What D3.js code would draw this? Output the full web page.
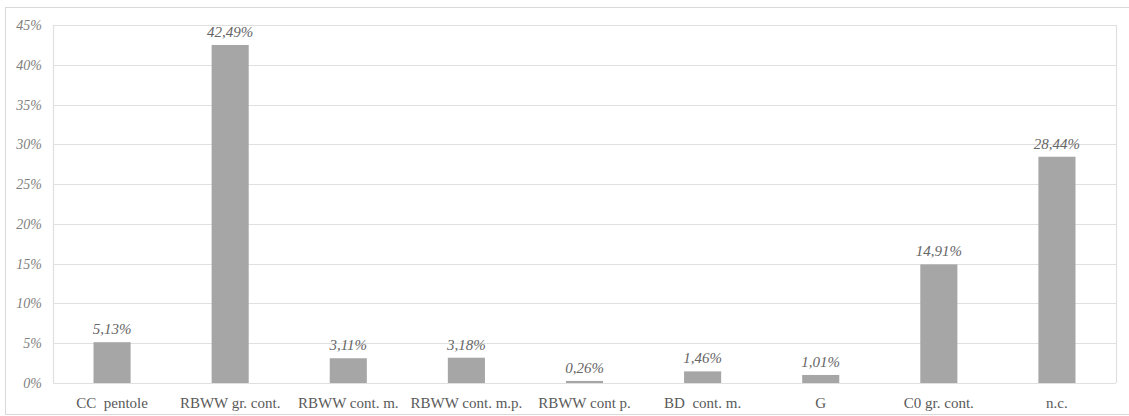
<!DOCTYPE html>
<html><head><meta charset="utf-8">
<script src="https://cdn.jsdelivr.net/npm/d3@7"></script>
<style>body{margin:0;background:#fff}svg{display:block}</style>
</head><body><svg id="c" width="1129" height="416"></svg>
<script>
const categories = ["CC  pentole","RBWW gr. cont.","RBWW cont. m.","RBWW cont. m.p.","RBWW cont p.","BD  cont. m.","G","C0 gr. cont.","n.c."];
const values = [5.13, 42.49, 3.11, 3.18, 0.26, 1.46, 1.01, 14.91, 28.44];
const valueLabels = ["5,13%","42,49%","3,11%","3,18%","0,26%","1,46%","1,01%","14,91%","28,44%"];
const yTicks = [0,5,10,15,20,25,30,35,40,45];

const FONT = '"Liberation Serif"';
const svg = d3.select("#c");
const m = {left:53, right:1116, top:25, bottom:383};
svg.append("rect").attr("x",5.5).attr("y",7.5).attr("width",1130).attr("height",407)
  .attr("fill","none").attr("stroke","#d9d9d9");

const x = d3.scaleBand().domain(categories).range([m.left,m.right]).paddingInner(0.686).paddingOuter(0.343);
const y = d3.scaleLinear().domain([0,45]).range([m.bottom,m.top]);

svg.append("g").selectAll("line").data(yTicks).join("line")
  .attr("x1",m.left).attr("x2",m.right)
  .attr("y1",d=>Math.round(y(d))+0.5).attr("y2",d=>Math.round(y(d))+0.5)
  .attr("stroke","#e0e0e0").attr("stroke-width",1.2);
svg.append("line").attr("x1",m.left+0.5).attr("x2",m.left+0.5).attr("y1",m.top).attr("y2",m.bottom).attr("stroke","#e0e0e0").attr("stroke-width",1.2);
svg.append("line").attr("x1",m.right+0.5).attr("x2",m.right+0.5).attr("y1",m.top).attr("y2",m.bottom).attr("stroke","#e0e0e0").attr("stroke-width",1.2);

const yAxis = d3.axisLeft(y).tickValues(yTicks).tickFormat(d=>d+"%").tickSize(0).tickPadding(11);
const ya = svg.append("g").attr("transform",`translate(${m.left},0)`).call(yAxis);
ya.select(".domain").remove();
ya.attr("font-family",null);
ya.selectAll("text").style("font-family",FONT).style("font-style","italic")
  .style("font-size","14px").attr("fill","#7f7f7f");

svg.append("g").selectAll("rect").data(values).join("rect")
  .attr("x",(d,i)=>x(categories[i])).attr("width",x.bandwidth())
  .attr("y",d=>y(d)).attr("height",d=>y(0)-y(d))
  .attr("fill","#a6a6a6");

svg.append("g").selectAll("text").data(values).join("text")
  .attr("x",(d,i)=>x(categories[i])+x.bandwidth()/2).attr("y",d=>y(d)-8)
  .attr("text-anchor","middle").style("font-family",FONT).style("font-style","italic")
  .style("font-size","15px").attr("fill","#666")
  .text((d,i)=>valueLabels[i]);

const xAxis = d3.axisBottom(x).tickSize(0).tickPadding(14);
const xa = svg.append("g").attr("transform",`translate(0,${m.bottom})`).call(xAxis);
xa.select(".domain").remove();
xa.attr("font-family",null);
xa.selectAll("text").style("font-family",FONT).style("font-size","15px")
  .attr("fill","#595959").style("white-space","pre");
</script></body></html>
